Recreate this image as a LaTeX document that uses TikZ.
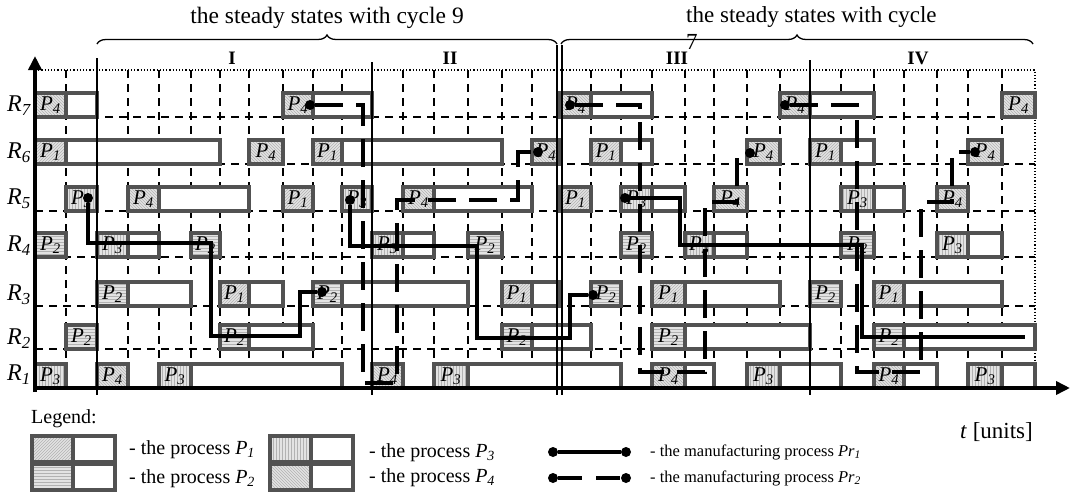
\documentclass[tikz,border=0pt]{standalone}
\usepackage{fontspec}
\setmainfont{Liberation Serif}
\usetikzlibrary{patterns,arrows.meta,decorations.pathreplacing}

% grid columns and row bottoms (in pt)
\def\gx{{35,66,97,128,159,191,220,249,283,313,342,372,403,434,468,502,532,560,591,621,652,685,714,747,780,810,841,874,904,937,968,1002,1035}}
\def\rb{{0,388,349,306,257,211,164,117}}

\tikzset{
  boxline/.style={draw=black!68, line width=3.8pt},
  hatchbg/.style={preaction={fill=gray!22}, pattern color=gray!60},
  gridline/.style={line width=1.2pt, dash pattern=on 8pt off 6pt},
  bound/.style={line width=2.2pt},
  axis/.style={line width=3.5pt, -{Triangle[length=14pt,width=13pt]}},
  pr1/.style={line width=3.6pt},
  pr2/.style={line width=3.6pt, dash pattern=on 28pt off 13pt},
  prdot/.style={circle, fill=black, inner sep=0pt, minimum size=10pt},
  plabel/.style={font=\fontsize{21}{22}\selectfont},
}

\newcommand{\setpat}[1]{\ifcase#1\or\def\pat{north east lines}\or\def\pat{horizontal lines}\or\def\pat{vertical lines}\or\def\pat{north west lines}\fi}

% row, first unit, last unit, process
\newcommand{\procbox}[4]{%
  \pgfmathsetmacro{\xa}{\gx[#2]}%
  \pgfmathsetmacro{\xb}{\gx[#2+1]}%
  \pgfmathsetmacro{\xc}{\gx[#3]}%
  \pgfmathsetmacro{\yb}{\rb[#1]}%
  \setpat{#4}%
  \fill[white] (\xa,\yb) rectangle (\xc,\yb-24);
  \fill[hatchbg, pattern=\pat] (\xa,\yb) rectangle (\xb,\yb-24);
  \draw[boxline] (\xa,\yb) rectangle (\xc,\yb-24) (\xb,\yb) -- (\xb,\yb-24);
  \node[plabel] (p#1-#2) at ({(\xa+\xb)/2},\yb-12) {\textit{P\textsubscript{#4}}};
}

\newcommand{\legbox}[3]{%
  \setpat{#3}%
  \fill[hatchbg, pattern=\pat] (#1,#2) rectangle (#1+41,#2+26);
  \draw[boxline] (#1,#2) rectangle (#1+83,#2+26) (#1+41,#2) -- (#1+41,#2+26);
}

\begin{document}
\begin{tikzpicture}[x=1pt, y=-1pt, line join=miter, font=\fontsize{20}{23}\selectfont, every node/.append style={inner sep=0pt}]
\useasboundingbox (0,0) rectangle (1071,498);

% grid
\foreach \k in {1,3,4,5,6,7,8,9,10,12,13,14,15,16,18,19,20,21,22,23,24,26,27,28,29,30,31} {
  \pgfmathsetmacro{\xk}{\gx[\k]}
  \draw[gridline] (\xk,70) -- (\xk,388);
}
\foreach \y in {117,164,211,257,306,349} \draw[gridline] (35,\y) -- (1035,\y);
\draw[dotted, line width=1.2pt] (35,70) -- (1035,70) -- (1035,388);

% resources R1..R7
\foreach \r/\s/\e/\p in {7/0/2/4, 7/8/11/4, 7/17/20/4, 7/24/27/4, 7/31/32/4,
  6/0/6/1, 6/7/8/4, 6/9/15/1, 6/16/17/4, 6/18/20/1, 6/23/24/4, 6/25/27/1, 6/30/31/4,
  5/1/2/3, 5/3/7/4, 5/8/9/1, 5/10/11/3, 5/12/16/4, 5/17/18/1, 5/19/21/3, 5/22/23/4, 5/26/28/3, 5/29/30/4,
  4/0/1/2, 4/2/4/3, 4/5/6/2, 4/11/13/3, 4/14/15/2, 4/19/20/2, 4/21/23/3, 4/26/27/2, 4/29/31/3,
  3/2/5/2, 3/6/8/1, 3/9/14/2, 3/15/17/1, 3/18/19/2, 3/20/24/1, 3/25/26/2, 3/27/31/1,
  2/1/2/2, 2/6/9/2, 2/15/18/2, 2/20/25/2, 2/27/32/2,
  1/0/1/3, 1/2/3/4, 1/4/10/3, 1/11/12/4, 1/13/19/3, 1/20/22/4, 1/23/26/3, 1/27/29/4, 1/30/32/3}
  {\procbox{\r}{\s}{\e}{\p}}
\foreach \i/\y in {1/375, 2/339, 3/295, 4/246, 5/199, 6/153, 7/106}
  \node[font=\fontsize{24}{25}\selectfont] (r\i) at (19,\y) {\textit{R\textsubscript{\i}}};

% cycle borders
\draw[bound] (97,58) -- (97,395);
\draw[bound] (372,62) -- (372,395);
\draw[line width=1.4pt] (557,45) -- (557,395) (562,45) -- (562,395);
\draw[bound] (810,60) -- (810,395);

% axes
\draw[axis] (35,392) -- (35,56);
\draw[axis] (33,388) -- (1070,388);

% Pr1
\node[prdot] (a1) at (88,198) {};
\node[prdot] (a2) at (322,292) {};
\draw[pr1] (a1) -- (88,243) -- (211,243) -- (211,336) -- (300,336) -- (300,292) -- (a2);
\node[prdot] (b1) at (350,200) {};
\node[prdot] (b2) at (593,295) {};
\draw[pr1] (b1) -- (350,246) -- (477,246) -- (477,338) -- (570,338) -- (570,295) -- (b2);
\node[prdot] (c1) at (625,198) {};
\coordinate (c2) at (1025,337);
\draw[pr1] (c1) -- (680,198) -- (680,245) -- (862,245) -- (862,337) -- (c2);

% Pr2
\node[prdot] (d1) at (310,105) {};
\node[prdot] (d2) at (538,152) {};
\draw[pr2] (d1) -- (363,105) -- (363,383) -- (397,383) -- (397,200) -- (518,200) -- (518,152) -- (d2);
\node[prdot] (e1) at (570,105) {};
\node[prdot] (e2) at (750,153) {};
\draw[pr2] (e1) -- (640,105) -- (640,372) -- (705,372) -- (705,202) -- (737,202) -- (737,153) -- (e2);
\node[prdot] (f1) at (785,105) {};
\node[prdot] (f2) at (975,152) {};
\draw[pr2] (f1) -- (857,105) -- (857,372) -- (921,372) -- (921,202) -- (952,202) -- (952,152) -- (f2);

% steady states
\draw[decorate, decoration={brace, amplitude=9pt}, line width=1.3pt] (97,44) -- (557,44);
\draw[decorate, decoration={brace, amplitude=9pt}, line width=1.3pt] (561,44) -- (1033,44);
\node[font=\fontsize{23.5}{27}\selectfont] (cyc9) at (327,18) {the steady states with cycle 9};
\node[font=\fontsize{23}{27}\selectfont, align=left, anchor=north west] (cyc7) at (686,6) {the steady states with cycle\\7};
\foreach \t/\x in {I/232, II/450, III/677, IV/918}
  \node[font=\fontsize{19}{22}\selectfont\bfseries] (s\t) at (\x,58) {\t};
\node[anchor=east, font=\fontsize{23}{25}\selectfont] (tu) at (1033,432) {\textit{t} [units]};

% legend
\node[anchor=west] (leg) at (31,419) {Legend:};
\legbox{32}{436}{1}
\legbox{32}{464}{2}
\legbox{270}{436}{3}
\legbox{270}{464}{4}
\node[anchor=west] (lp1) at (129,450) {- the process \textit{P\textsubscript{1}}};
\node[anchor=west] (lp2) at (129,479) {- the process \textit{P\textsubscript{2}}};
\node[anchor=west] (lp3) at (369,453) {- the process \textit{P\textsubscript{3}}};
\node[anchor=west] (lp4) at (369,478) {- the process \textit{P\textsubscript{4}}};
\node[prdot] (la) at (553,452) {};
\node[prdot] (lb) at (626,452) {};
\draw[pr1] (la) -- (lb);
\node[prdot] (lc) at (553,478) {};
\node[prdot] (ld) at (626,478) {};
\draw[pr2, dash pattern=on 24pt off 14pt] (lc) -- (ld);
\node[anchor=west, font=\fontsize{16.5}{20}\selectfont] (lm1) at (650,452) {- the manufacturing process \textit{Pr\textsubscript{1}}};
\node[anchor=west, font=\fontsize{16.5}{20}\selectfont] (lm2) at (650,478) {- the manufacturing process \textit{Pr\textsubscript{2}}};
\end{tikzpicture}
\end{document}
